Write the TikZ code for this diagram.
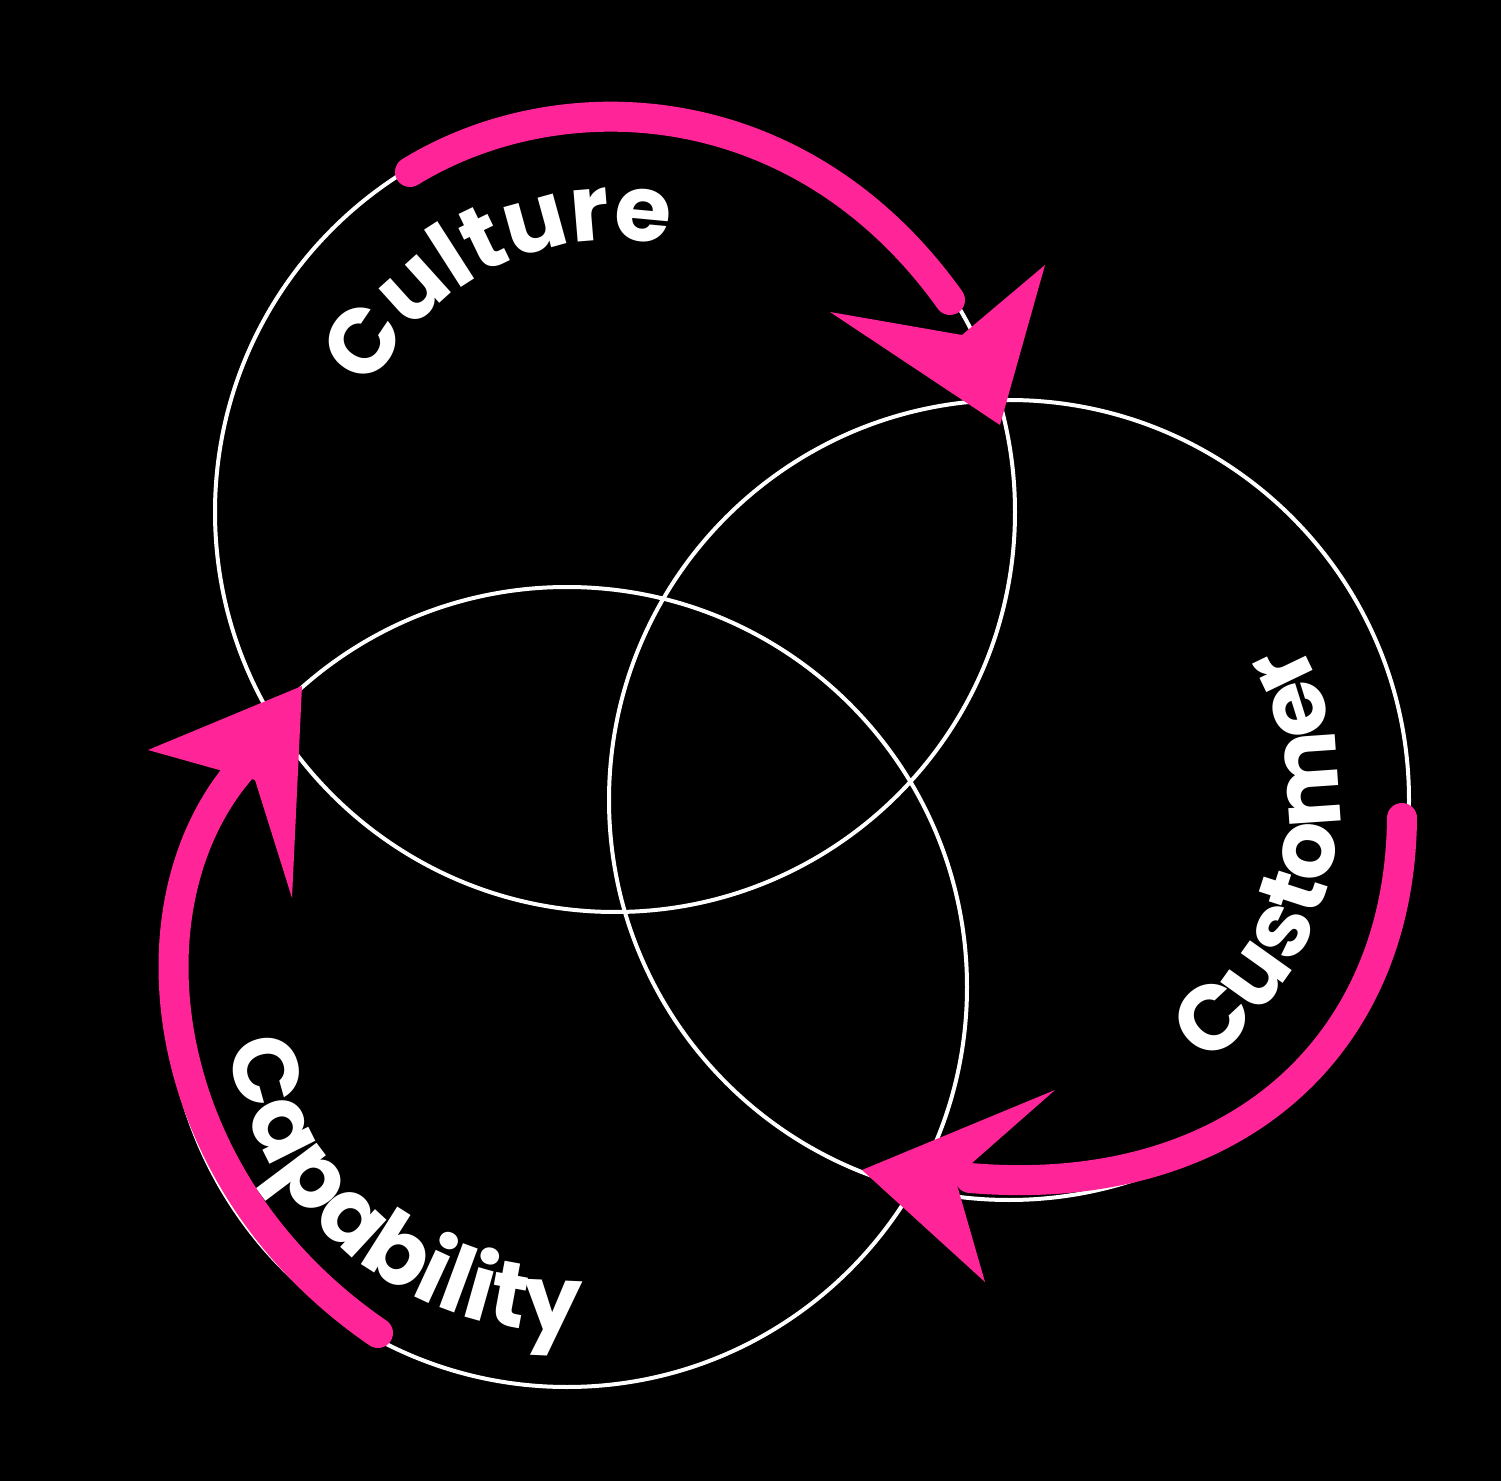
\documentclass[tikz,border=0pt]{standalone}
\usepackage{fontspec}
\setmainfont{Poppins}
\usetikzlibrary{decorations.text,calc}
\definecolor{pinkA}{HTML}{FF2599}
\tikzset{
 ring/.style={draw=white,line width=2pt},
 shaft/.style={draw=pinkA,line width=15pt,line cap=round},
 head/.style={fill=pinkA},
 lbl/.style={decorate,decoration={text along path,text align=center,
   text color=white,text={|\fontsize{46}{46}\selectfont\bfseries|#1}}}
}
\begin{document}
\begin{tikzpicture}[x=0.5pt,y=-0.5pt]
\fill[black] (0,0) rectangle (1501,1481);
\useasboundingbox (0,0) rectangle (1501,1481);
\coordinate (cu) at (615,512);
\coordinate (cs) at (1009,800);
\coordinate (ca) at (567,987);
\draw[ring] (cu) circle (400);
\draw[ring] (cs) circle (400);
\draw[ring] (ca) circle (400);
% labels
\path[lbl={Culture}] ($(cu)+(-170:272)$) arc (-170:-62:272);
\path[lbl={Customer}] ($(cs)+(72:330)$) arc (72:-48:330);
\path[lbl={Capability}] ($(ca)+(-171:345)$) arc (-171:-291:345);
% arrow 1
\coordinate (a1s) at (410,172);
\coordinate (a1e) at (950,300);
\draw[shaft] (a1s) .. controls (560,80) and (800,90) .. (a1e);
\fill[head] (830,312) -- (1000,425) -- (1045,265) -- (962,335) -- cycle;
% arrow 2
\coordinate (a2s) at (1402,818);
\coordinate (a2e) at (970,1178);
\draw[shaft] (a2s) .. controls (1400,1050) and (1230,1200) .. (a2e);
\fill[head] (1055,1090) -- (862,1170) -- (985,1282) -- (955,1178) -- cycle;
% arrow 3
\coordinate (a3s) at (378,1333);
\coordinate (a3e) at (265,745);
\draw[shaft] (a3s) .. controls (140,1170) and (120,870) .. (a3e);
\fill[head] (148,750) -- (302,686) -- (292,898) -- (255,780) -- cycle;
\end{tikzpicture}
\end{document}
